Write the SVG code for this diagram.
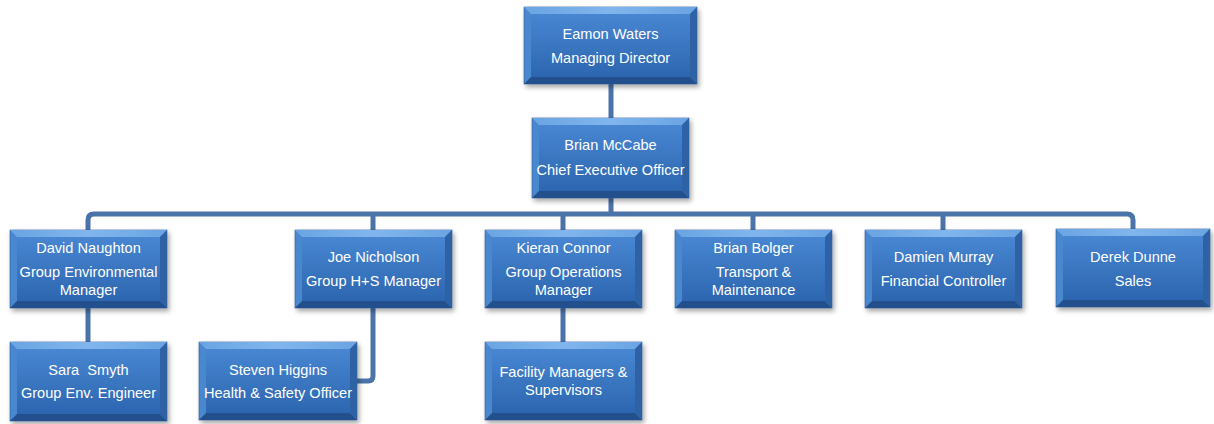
<svg xmlns="http://www.w3.org/2000/svg" width="1214" height="424" viewBox="0 0 1214 424">
<defs>
<linearGradient id="face" x1="0" y1="0" x2="0" y2="1">
<stop offset="0" stop-color="#4886d1"/>
<stop offset="1" stop-color="#2d66b0"/>
</linearGradient>
<linearGradient id="topg" x1="0" y1="0" x2="1" y2="0">
<stop offset="0" stop-color="#6aa4e2"/>
<stop offset="0.5" stop-color="#80b6ec"/>
<stop offset="1" stop-color="#6aa4e2"/>
</linearGradient>
<filter id="sh" x="-10%" y="-10%" width="125%" height="135%">
<feDropShadow dx="2" dy="3" stdDeviation="2.5" flood-color="#000" flood-opacity="0.35"/>
</filter>
</defs>
<style>
.o{fill:#4a88cf;stroke:#2c5892;stroke-width:0.6;filter:url(#sh)}
.bt{fill:url(#topg)}
.br{fill:#2f62a5}
.bb{fill:#23508c}
.f{fill:url(#face)}
.t{font-family:"Liberation Sans",Arial,sans-serif;font-size:14.6px;fill:#ffffff;text-anchor:middle}
.c{fill:none;stroke:#4a73a9;stroke-width:5;stroke-linejoin:round}
</style>
<rect width="1214" height="424" fill="#ffffff"/>
<g id="connectors">
<path class="c" d="M611 84V118"/>
<path class="c" d="M611 198V214"/>
<path class="c" d="M88 232V220Q88 214 94 214H1127Q1133 214 1133 220V232"/>
<path class="c" d="M373 214V232"/>
<path class="c" d="M563 214V232"/>
<path class="c" d="M753 214V232"/>
<path class="c" d="M943 214V232"/>
<path class="c" d="M88 306V344"/>
<path class="c" d="M563 306V344"/>
<path class="c" d="M373 306V376Q373 381 368 381H355"/>
</g>
<g id="eamon">
<rect class="o" x="524" y="7" width="173" height="77"/>
<polygon class="bt" points="524,7 697,7 690,14 531,14"/>
<polygon class="br" points="697,7 697,84 690,77 690,14"/>
<polygon class="bb" points="524,84 531,77 690,77 697,84"/>
<rect class="f" x="531" y="14" width="159" height="63"/>
<text class="t" x="610.5" y="39">Eamon Waters</text>
<text class="t" x="610.5" y="63">Managing Director</text>
</g>
<g id="brian-mccabe">
<rect class="o" x="532" y="118" width="157" height="80"/>
<polygon class="bt" points="532,118 689,118 682,125 539,125"/>
<polygon class="br" points="689,118 689,198 682,191 682,125"/>
<polygon class="bb" points="532,198 539,191 682,191 689,198"/>
<rect class="f" x="539" y="125" width="143" height="66"/>
<text class="t" x="610.5" y="150">Brian McCabe</text>
<text class="t" x="610.5" y="175">Chief Executive Officer</text>
</g>
<g id="david">
<rect class="o" x="10" y="230" width="157" height="78"/>
<polygon class="bt" points="10,230 167,230 160,237 17,237"/>
<polygon class="br" points="167,230 167,308 160,301 160,237"/>
<polygon class="bb" points="10,308 17,301 160,301 167,308"/>
<rect class="f" x="17" y="237" width="143" height="64"/>
<text class="t" x="88.5" y="253">David Naughton</text>
<text class="t" x="88.5" y="277">Group Environmental</text>
<text class="t" x="88.5" y="295">Manager</text>
</g>
<g id="joe">
<rect class="o" x="295" y="230" width="157" height="78"/>
<polygon class="bt" points="295,230 452,230 445,237 302,237"/>
<polygon class="br" points="452,230 452,308 445,301 445,237"/>
<polygon class="bb" points="295,308 302,301 445,301 452,308"/>
<rect class="f" x="302" y="237" width="143" height="64"/>
<text class="t" x="373.5" y="262">Joe Nicholson</text>
<text class="t" x="373.5" y="286">Group H+S Manager</text>
</g>
<g id="kieran">
<rect class="o" x="485" y="230" width="157" height="78"/>
<polygon class="bt" points="485,230 642,230 635,237 492,237"/>
<polygon class="br" points="642,230 642,308 635,301 635,237"/>
<polygon class="bb" points="485,308 492,301 635,301 642,308"/>
<rect class="f" x="492" y="237" width="143" height="64"/>
<text class="t" x="563.5" y="253">Kieran Connor</text>
<text class="t" x="563.5" y="277">Group Operations</text>
<text class="t" x="563.5" y="295">Manager</text>
</g>
<g id="brian-bolger">
<rect class="o" x="675" y="230" width="157" height="78"/>
<polygon class="bt" points="675,230 832,230 825,237 682,237"/>
<polygon class="br" points="832,230 832,308 825,301 825,237"/>
<polygon class="bb" points="675,308 682,301 825,301 832,308"/>
<rect class="f" x="682" y="237" width="143" height="64"/>
<text class="t" x="753.5" y="253">Brian Bolger</text>
<text class="t" x="753.5" y="277">Transport &amp;</text>
<text class="t" x="753.5" y="295">Maintenance</text>
</g>
<g id="damien">
<rect class="o" x="865" y="230" width="157" height="78"/>
<polygon class="bt" points="865,230 1022,230 1015,237 872,237"/>
<polygon class="br" points="1022,230 1022,308 1015,301 1015,237"/>
<polygon class="bb" points="865,308 872,301 1015,301 1022,308"/>
<rect class="f" x="872" y="237" width="143" height="64"/>
<text class="t" x="943.5" y="262">Damien Murray</text>
<text class="t" x="943.5" y="286">Financial Controller</text>
</g>
<g id="derek">
<rect class="o" x="1056" y="229" width="154" height="78"/>
<polygon class="bt" points="1056,229 1210,229 1203,236 1063,236"/>
<polygon class="br" points="1210,229 1210,307 1203,300 1203,236"/>
<polygon class="bb" points="1056,307 1063,300 1203,300 1210,307"/>
<rect class="f" x="1063" y="236" width="140" height="64"/>
<text class="t" x="1133" y="262">Derek Dunne</text>
<text class="t" x="1133" y="286">Sales</text>
</g>
<g id="sara">
<rect class="o" x="10" y="342" width="157" height="79"/>
<polygon class="bt" points="10,342 167,342 160,349 17,349"/>
<polygon class="br" points="167,342 167,421 160,414 160,349"/>
<polygon class="bb" points="10,421 17,414 160,414 167,421"/>
<rect class="f" x="17" y="349" width="143" height="65"/>
<text class="t" x="88.5" y="375" xml:space="preserve">Sara  Smyth</text>
<text class="t" x="88.5" y="398">Group Env. Engineer</text>
</g>
<g id="steven">
<rect class="o" x="199" y="342" width="158" height="78"/>
<polygon class="bt" points="199,342 357,342 350,349 206,349"/>
<polygon class="br" points="357,342 357,420 350,413 350,349"/>
<polygon class="bb" points="199,420 206,413 350,413 357,420"/>
<rect class="f" x="206" y="349" width="144" height="64"/>
<text class="t" x="278" y="375">Steven Higgins</text>
<text class="t" x="278" y="398">Health &amp; Safety Officer</text>
</g>
<g id="facility">
<rect class="o" x="485" y="342" width="157" height="78"/>
<polygon class="bt" points="485,342 642,342 635,349 492,349"/>
<polygon class="br" points="642,342 642,420 635,413 635,349"/>
<polygon class="bb" points="485,420 492,413 635,413 642,420"/>
<rect class="f" x="492" y="349" width="143" height="64"/>
<text class="t" x="563.5" y="377">Facility Managers &amp;</text>
<text class="t" x="563.5" y="395">Supervisors</text>
</g>
</svg>
